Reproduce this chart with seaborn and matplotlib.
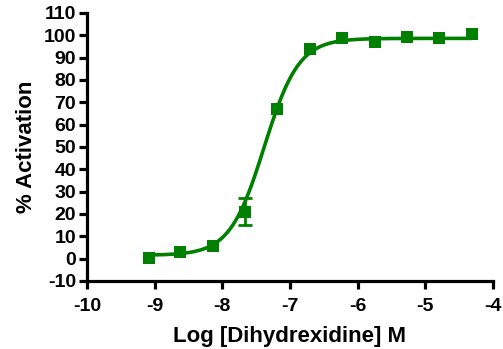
"""
Dose-response curve for dihydrexidine (% activation vs log concentration)
"""
import numpy as np
import pandas as pd
import matplotlib
matplotlib.use("Agg")
import matplotlib.pyplot as plt
import seaborn as sns

log_conc = [-9.09, -8.62, -8.14, -7.67, -7.19, -6.71, -6.23, -5.75, -5.27, -4.79, -4.31]
activation = [0.4, 3.0, 5.6, 21.0, 67.0, 94.0, 98.6, 97.0, 99.0, 98.6, 100.4]
sem = [0, 0, 0, 6.0, 0, 0, 0, 0, 0, 0, 0]

# Four-parameter logistic fit shown as the curve
fit_bottom = 1.5
fit_top = 98.6
fit_log_ec50 = -7.38
fit_hill = 1.7

x_ticks = [-10, -9, -8, -7, -6, -5, -4]
y_ticks = list(range(-10, 111, 10))

green = "#008000"

sns.set_style("ticks")
plt.rcParams['font.family'] = ['Liberation Sans', 'DejaVu Sans']
plt.rcParams['font.weight'] = 'bold'
plt.rcParams['axes.unicode_minus'] = False
plt.rcParams['text.color'] = 'black'
plt.rcParams['axes.labelcolor'] = 'black'
plt.rcParams['xtick.color'] = 'black'
plt.rcParams['ytick.color'] = 'black'
plt.rcParams['axes.edgecolor'] = 'black'

df = pd.DataFrame({"logc": log_conc, "act": activation, "sem": sem})

xs = np.linspace(min(log_conc), max(log_conc), 400)
curve = pd.DataFrame({
    "logc": xs,
    "act": fit_bottom + (fit_top - fit_bottom) / (1 + 10 ** ((fit_log_ec50 - xs) * fit_hill)),
})

fig = plt.figure(figsize=(5.03, 3.49), dpi=100)
ax = fig.add_axes([0.173, 0.195, 0.807, 0.768])

sns.lineplot(data=curve, x="logc", y="act", ax=ax, color=green, linewidth=2.6)
err = df[df["sem"] > 0]
ax.errorbar(err["logc"], err["act"], yerr=err["sem"], fmt="none",
            ecolor=green, elinewidth=2, capsize=5, capthick=2)
sns.scatterplot(data=df, x="logc", y="act", ax=ax, marker="s", s=64,
                color=green, edgecolor=green, linewidth=0, zorder=5)

ax.set_xlim(-10, -4)
ax.set_ylim(-10, 110)
ax.set_xticks(x_ticks)
ax.set_yticks(y_ticks)
ax.tick_params(axis="both", width=2.3, length=6, labelsize=14, pad=2)
ax.tick_params(axis="x", pad=6)
for lbl in ax.get_xticklabels() + ax.get_yticklabels():
    lbl.set_fontweight("bold")
for side in ["left", "bottom"]:
    ax.spines[side].set_linewidth(2.3)
sns.despine(ax=ax)

ax.set_xlabel("Log [Dihydrexidine] M", fontsize=16, fontweight="bold", labelpad=8)
ax.set_ylabel("% Activation", fontsize=16, fontweight="bold", labelpad=5)

fig.savefig("out.png", dpi=100)
plt.close(fig)
